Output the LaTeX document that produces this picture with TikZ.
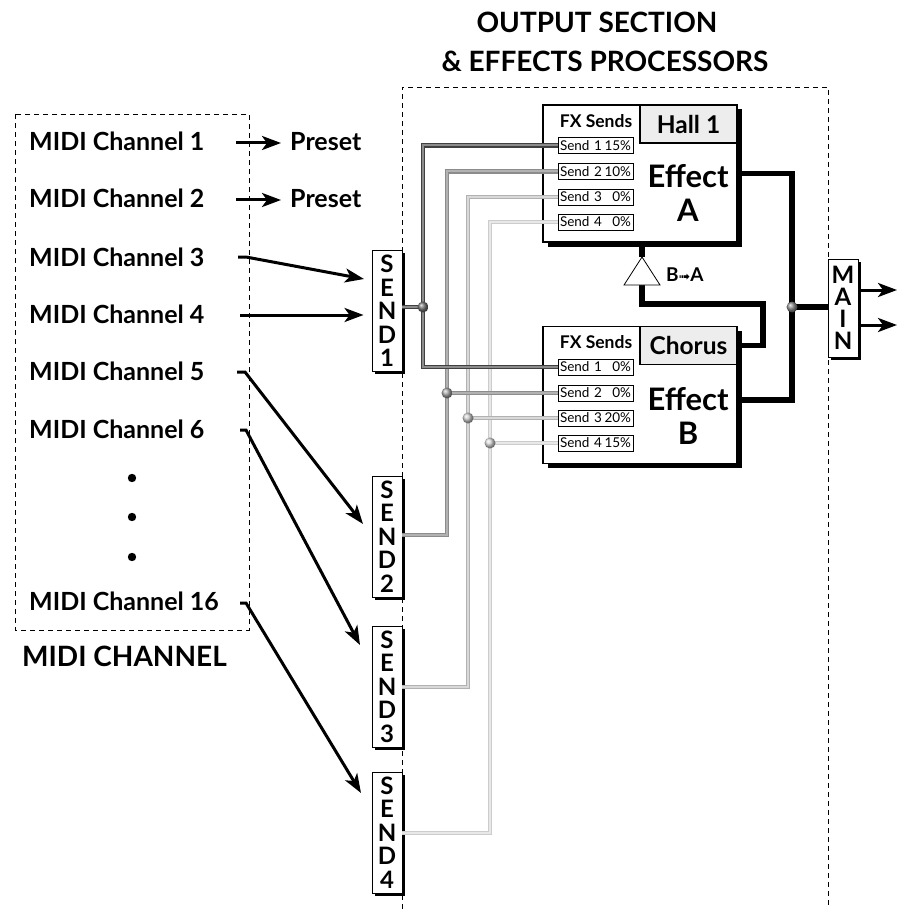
\documentclass[tikz,border=0pt]{standalone}
\usepackage{fontspec}
\setmainfont{Lato}
\newfontfamily\symfont{DejaVu Sans}
\usetikzlibrary{arrows.meta,shadows}
\begin{document}
\begin{tikzpicture}[x=1pt,y=-1pt,
  lab/.style={font=\bfseries\fontsize{25}{27}\selectfont, anchor=base west, inner sep=0pt},
  ttl/.style={font=\bfseries\fontsize{28}{30}\selectfont, inner sep=0pt, anchor=base},
  arr/.style={line width=3pt, -{Stealth[length=19pt,width=14pt,inset=5pt]}},
  dashbox/.style={line width=0.8pt, dash pattern=on 5pt off 4pt},
  sendbox/.style={draw, line width=0.9pt, fill=white, minimum width=30pt, minimum height=121pt, inner sep=0pt, align=center, font=\bfseries\fontsize{24}{23.5}\selectfont, general shadow={fill=black, shadow xshift=2.5pt, shadow yshift=-2.5pt}},
  effbox/.style={draw, line width=1.4pt, fill=white, minimum width=194pt, minimum height=137pt, inner sep=0pt, general shadow={fill=black, shadow xshift=4.5pt, shadow yshift=-4.5pt}},
  namebox/.style={draw, line width=1.2pt, fill=black!7, minimum width=97pt, minimum height=38pt, inner sep=0pt, font=\bfseries\fontsize{24.5}{26}\selectfont},
  senditem/.style={draw, line width=0.8pt, fill=white, minimum width=75pt, minimum height=16pt, inner xsep=2pt, inner ysep=0pt, text width=71pt, font=\fontsize{13.5}{13.5}\selectfont},
  smalllab/.style={font=\bfseries\fontsize{17.5}{18}\selectfont, anchor=base, inner sep=0pt},
  efflab/.style={font=\bfseries\fontsize{31}{33}\selectfont, anchor=base, inner sep=0pt},
  outl/.style={line width=5.5pt, line join=miter},
  bus1/.style={line width=1.3pt, draw=black!75, double=black!45, double distance=2pt, line join=miter},
  bus2/.style={line width=1.3pt, draw=black!45, double=black!30, double distance=2pt, line join=miter},
  bus3/.style={line width=1.3pt, draw=black!30, double=black!15, double distance=2pt, line join=miter},
  bus4/.style={line width=1.3pt, draw=black!20, double=black!9, double distance=2pt, line join=miter},
  ball/.style={shading=ball}
]
\useasboundingbox (0,0) rectangle (897,909);

% titles
\node[ttl] (title1) at (597,33) {OUTPUT SECTION};
\node[ttl] (title2) at (605,72) {\& EFFECTS PROCESSORS};
\node[lab, font=\bfseries\fontsize{28}{30}\selectfont] (mcl) at (22,666) {MIDI CHANNEL};

% dashed frames
\draw[dashbox] (15,114) rectangle (249,630);
\draw[dashbox] (402,909) -- (402,87) -- (828,87) -- (828,909);

% MIDI channels
\node[lab] (ch1) at (29,151) {MIDI Channel 1};
\node[lab] (ch2) at (29,208) {MIDI Channel 2};
\node[lab] (ch3) at (29,266) {MIDI Channel 3};
\node[lab] (ch4) at (29,323) {MIDI Channel 4};
\node[lab] (ch5) at (29,380) {MIDI Channel 5};
\node[lab] (ch6) at (29,438) {MIDI Channel 6};
\node[lab] (ch16) at (29,610) {MIDI Channel 16};
\fill (132,478) circle (4.2pt);
\fill (132,517) circle (4.2pt);
\fill (132,557) circle (4.2pt);

\node[lab] (pre1) at (290,151) {Preset};
\node[lab] (pre2) at (290,208) {Preset};

% send boxes
\node[sendbox] (send1) at (387,311) {S\\E\\N\\D\\1};
\node[sendbox] (send2) at (387,536.5) {S\\E\\N\\D\\2};
\node[sendbox] (send3) at (387,686.5) {S\\E\\N\\D\\3};
\node[sendbox] (send4) at (387,832.5) {S\\E\\N\\D\\4};

% channel arrows
\coordinate (c1) at (236,143);
\coordinate (c2) at (236,200);
\coordinate (c3) at (238,257);
\coordinate (c4) at (240,315);
\coordinate (c5) at (237,372);
\coordinate (c6) at (240,430);
\coordinate (c16) at (240,603);
\coordinate (t3) at (364,279);
\coordinate (t5) at (363,524);
\coordinate (t6) at (360,645);
\coordinate (t16) at (361,793);
\draw[arr] (c1) -- ([xshift=-9pt]pre1.west |- c1);
\draw[arr] (c2) -- ([xshift=-9pt]pre2.west |- c2);
\draw[arr] (c3) -- ++(8,0) -- (t3);
\draw[arr] (c4) -- ([xshift=-8pt]send1.west |- c4);
\draw[arr] (c5) -- ++(8,0) -- (t5);
\draw[arr] (c6) -- ++(6,0) -- (t6);
\draw[arr] (c16) -- ++(6,0) -- (t16);

% effect boxes
\node[effbox] (effA) at (640,173.5) {};
\node[namebox] (hall) at (688.5,124) {Hall 1};
\node[smalllab] (fxA) at (596,128) {FX Sends};
\node[efflab] (eA1) at (688,188) {Effect};
\node[efflab] (eA2) at (688,222) {A};
\node[senditem] (sA1) at (595.5,145.5) {Send 1\hfill 15\%};
\node[senditem] (sA2) at (595.5,171.5) {Send 2\hfill 10\%};
\node[senditem] (sA3) at (595.5,197) {Send 3\hfill 0\%};
\node[senditem] (sA4) at (595.5,222) {Send 4\hfill 0\%};

\node[effbox] (effB) at (640,395) {};
\node[namebox] (chorus) at (688.5,345.5) {Chorus};
\node[smalllab] (fxB) at (596,348) {FX Sends};
\node[efflab] (eB1) at (688,410) {Effect};
\node[efflab] (eB2) at (688,444) {B};
\node[senditem] (sB1) at (595.5,367) {Send 1\hfill 0\%};
\node[senditem] (sB2) at (595.5,393) {Send 2\hfill 0\%};
\node[senditem] (sB3) at (595.5,418) {Send 3\hfill 20\%};
\node[senditem] (sB4) at (595.5,443) {Send 4\hfill 15\%};

% buses
\coordinate (k1) at (423,307);
\coordinate (k2) at (447,535);
\coordinate (k3) at (468,687);
\coordinate (k4) at (490,833);
\draw[bus4] (sA4.west) -| (k4) -- (send4.east |- k4);
\draw[bus4] (k4 |- sB4.west) -- (sB4.west);
\draw[bus3] (sA3.west) -| (k3) -- (send3.east |- k3);
\draw[bus3] (k3 |- sB3.west) -- (sB3.west);
\draw[bus2] (sA2.west) -| (k2) -- (send2.east |- k2);
\draw[bus2] (k2 |- sB2.west) -- (sB2.west);
\draw[bus1] (sA1.west) -| (k1) |- (sB1.west);
\draw[bus1] (send1.east |- k1) -- (k1);
\shade[ball, ball color=black!55] (k1) circle (5.5pt);
\shade[ball, ball color=black!35] (k2 |- sB2.west) circle (5.5pt);
\shade[ball, ball color=black!20] (k3 |- sB3.west) circle (5.5pt);
\shade[ball, ball color=black!15] (k4 |- sB4.west) circle (5.5pt);

% outputs
\node[sendbox, minimum height=98pt, font=\bfseries\fontsize{24}{22}\selectfont] (main) at (843,308) {M\\A\\I\\N};
\coordinate (mj) at (792,307);
\draw[outl] (effA.east) -| (mj);
\draw[outl] ([yshift=-5pt]effB.east) -| (mj);
\draw[outl] (mj) -- (main.west |- mj);
\shade[ball, ball color=black!45] (mj) circle (5.5pt);
\draw[arr] ([yshift=18pt]main.east) -- ([yshift=18pt]main.east -| 897,0);
\draw[arr] ([yshift=-17pt]main.east) -- ([yshift=-17pt]main.east -| 897,0);

% B -> A
\coordinate (triTop) at (642,257);
\coordinate (triBot) at (642,285);
\coordinate (ba) at (763,304);
\draw[outl] (triTop |- effA.south) -- (triTop);
\draw[outl] (triBot) |- (ba) |- (chorus.east);
\draw[line width=0.8pt, fill=white, line join=miter] (624,285) -- (triTop) -- (660,285) -- cycle;
\node[font=\bfseries\fontsize{19}{20}\selectfont, anchor=base west, inner sep=0pt] (bta) at (666,281) {B{\symfont\fontsize{14}{14}\selectfont ➟}A};
\end{tikzpicture}
\end{document}
